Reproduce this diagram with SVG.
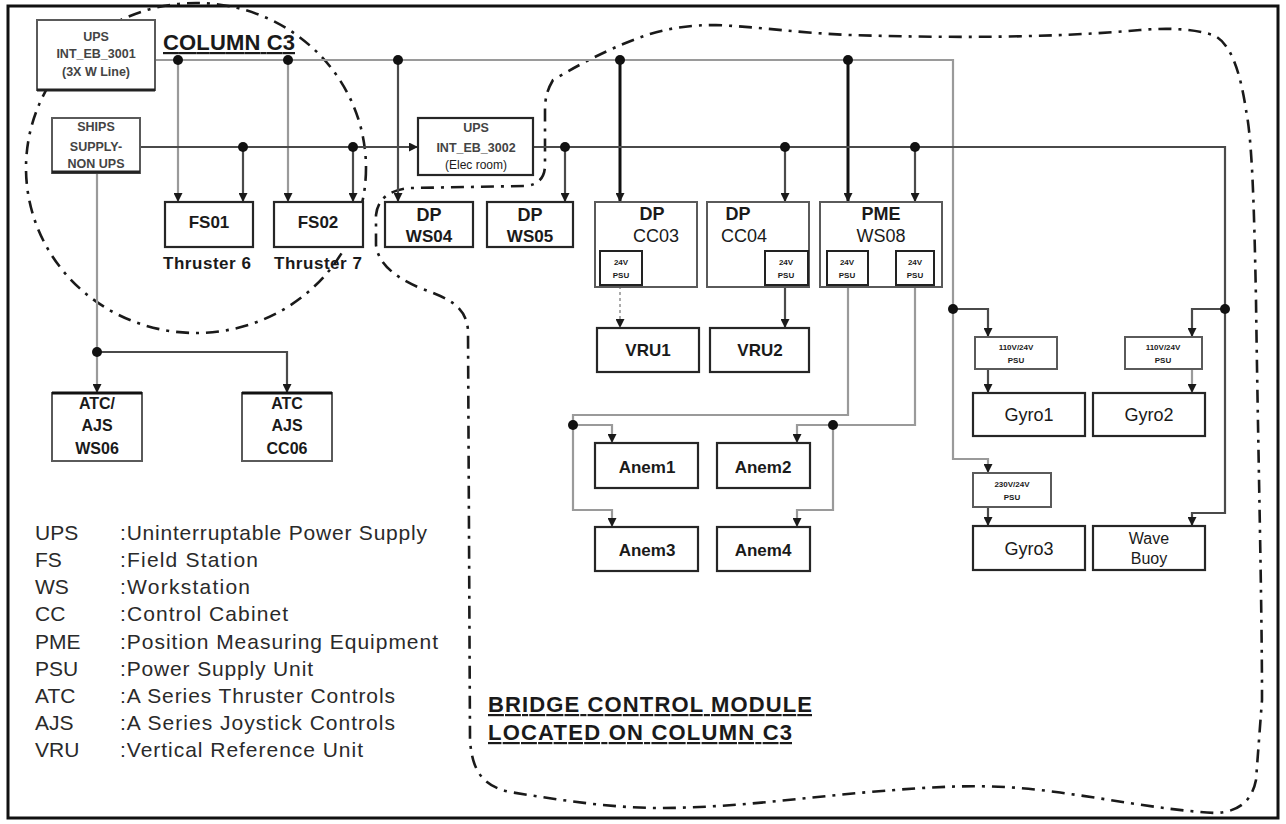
<svg xmlns="http://www.w3.org/2000/svg" width="1286" height="824" viewBox="0 0 1286 824">
<defs>
<marker id="ah" viewBox="0 0 10 10" refX="10" refY="5" markerWidth="10" markerHeight="9" markerUnits="userSpaceOnUse" orient="auto">
<path d="M0,0 L10,5 L0,10 z" fill="#1a1a1a"/>
</marker>
<style>
text{font-family:"Liberation Sans",Arial,sans-serif;fill:#1a1a1a;text-anchor:middle}
.b{font-weight:bold}
.st{text-anchor:start}
.box{fill:#fff;stroke:#262626;stroke-width:2.2}
.boxl{fill:#fff;stroke:#5a5a5a;stroke-width:2}
.sm{fill:#fff;stroke:#222;stroke-width:2}
.dd{fill:none;stroke:#1a1a1a;stroke-width:2.6;stroke-dasharray:13 7 3 7}
.g{fill:none;stroke:#9a9a9a;stroke-width:2.2}
.m{fill:none;stroke:#4a4a4a;stroke-width:2.2}
.k{fill:none;stroke:#111;stroke-width:3}
.dsh{fill:none;stroke:#333;stroke-width:1.6;stroke-dasharray:4 3}
.dot2{fill:none;stroke:#888;stroke-width:1.4;stroke-dasharray:3 3}
.leg{text-anchor:start;font-size:21px;fill:#2a2a2a}
.tiny{font-size:8px;font-weight:bold}
.ut{font-size:12.5px;font-weight:bold;fill:#444}
</style>
</defs>
<rect x="0" y="0" width="1286" height="824" fill="#fff"/>
<rect x="8" y="6" width="1270" height="812" fill="none" stroke="#111" stroke-width="3"/>

<!-- boundaries -->
<g id="boundaries">
<ellipse class="dd" cx="196" cy="168" rx="170" ry="165"/>
<path class="dd" d="M553,80 C546,92 545,100 545,112 L545,165 C545,178 538,185 525,186 L410,188 C390,190 378,198 376,215 L376,245 C378,262 392,276 420,288 C448,298 466,306 468,330 L470,740 C472,770 482,786 510,792 C560,800 610,808 660,808 C730,808 800,798 870,792 C930,787 980,783 1040,790 C1100,797 1160,810 1215,813 C1240,812 1252,800 1256,780 L1262,700 C1262,600 1258,450 1256,300 C1254,200 1252,140 1246,110 C1240,70 1230,42 1213,35 C1190,28 1165,28 1140,30 C1050,38 950,38 850,35 C800,33 760,27 716,25 C690,25 670,28 650,34 C620,44 590,58 553,80 Z"/>
</g>

<!-- connectors -->
<g id="connectors">
<path class="g" d="M155,60 H953 V459 H988 V473" marker-end="url(#ah)"/>
<path class="g" d="M178,60 V202" marker-end="url(#ah)"/>
<path class="g" d="M288,60 V202" marker-end="url(#ah)"/>
<path class="m" d="M398,60 V202" marker-end="url(#ah)"/>
<path class="k" d="M620,60 V202" marker-end="url(#ah)"/>
<path class="k" d="M848,60 V202" marker-end="url(#ah)"/>
<path class="m" d="M140,147 H418" marker-end="url(#ah)"/>
<path class="m" d="M533,147 H1225 V513 H1192 V526" marker-end="url(#ah)"/>
<path class="m" d="M243,147 V202" marker-end="url(#ah)"/>
<path class="m" d="M353,147 V202" marker-end="url(#ah)"/>
<path class="m" d="M565,147 V202" marker-end="url(#ah)"/>
<path class="m" d="M785,147 V202" marker-end="url(#ah)"/>
<path class="m" d="M915,147 V202" marker-end="url(#ah)"/>
<path class="dsh" d="M620,204 V251" marker-end="url(#ah)"/>
<path class="dsh" d="M785,204 V251" marker-end="url(#ah)"/>
<path class="m" d="M848,204 V251" marker-end="url(#ah)"/>
<path class="dsh" d="M915,204 V251" marker-end="url(#ah)"/>
<path class="dot2" d="M620,286 V328" marker-end="url(#ah)"/>
<path class="m" d="M785,286 V328" marker-end="url(#ah)"/>
<path class="g" d="M848,286 V415 H573 V510 H612 V527" marker-end="url(#ah)"/>
<path class="g" d="M573,425 H612 V443" marker-end="url(#ah)"/>
<path class="g" d="M915,286 V425 H797 V443" marker-end="url(#ah)"/>
<path class="g" d="M833,425 V510 H797 V527" marker-end="url(#ah)"/>
<path class="m" d="M953,309 H988 V337" marker-end="url(#ah)"/>
<path class="m" d="M988,369 V393" marker-end="url(#ah)"/>
<path class="m" d="M988,507 V526" marker-end="url(#ah)"/>
<path class="m" d="M1225,309 H1192 V337" marker-end="url(#ah)"/>
<path class="g" d="M1192,369 V393" marker-end="url(#ah)"/>
<path class="g" d="M97,173 V393" marker-end="url(#ah)"/>
<path class="m" d="M97,352 H287 V393" marker-end="url(#ah)"/>
<g fill="#111">
<circle cx="178" cy="60" r="5"/><circle cx="288" cy="60" r="5"/><circle cx="398" cy="60" r="5"/><circle cx="620" cy="60" r="5"/><circle cx="848" cy="60" r="5"/>
<circle cx="243" cy="147" r="5"/><circle cx="353" cy="147" r="5"/><circle cx="565" cy="147" r="5"/><circle cx="785" cy="147" r="5"/><circle cx="915" cy="147" r="5"/>
<circle cx="97" cy="352" r="5"/><circle cx="953" cy="309" r="5"/><circle cx="1225" cy="309" r="5"/><circle cx="573" cy="425" r="5"/><circle cx="833" cy="425" r="5"/>
</g>
</g>

<!-- nodes -->
<g id="ups1"><rect class="boxl" x="37" y="20" width="118" height="70"/><line x1="37" y1="90" x2="155" y2="90" stroke="#222" stroke-width="3"/>
<text class="ut" x="96" y="41">UPS</text><text class="ut" x="96" y="58">INT_EB_3001</text><text class="ut" x="96" y="76">(3X W Line)</text></g>
<g id="col-label"><text class="b st" x="163" y="50" font-size="22" text-decoration="underline" textLength="132">COLUMN C3</text></g>
<g id="ships"><rect class="boxl" x="52" y="118" width="88" height="55"/><line x1="52" y1="172" x2="140" y2="172" stroke="#222" stroke-width="3"/>
<text class="ut" x="96" y="131">SHIPS</text><text class="ut" x="96" y="151">SUPPLY-</text><text class="ut" x="96" y="168">NON UPS</text></g>
<g id="ups2"><rect class="box" x="418" y="118" width="115" height="57"/>
<text class="ut" x="476" y="132">UPS</text><text class="ut" x="476" y="152">INT_EB_3002</text><text x="476" y="169" font-size="12" fill="#444">(Elec room)</text></g>
<g id="fs01"><rect class="box" x="165" y="202" width="88" height="45" stroke-width="3"/><text class="b" x="209" y="228" font-size="17">FS01</text><text class="b" x="207" y="269" font-size="17" fill="#333" textLength="88">Thruster 6</text></g>
<g id="fs02"><rect class="box" x="274" y="202" width="89" height="45" stroke-width="3"/><text class="b" x="318" y="228" font-size="17">FS02</text><text class="b" x="318" y="269" font-size="17" fill="#333" textLength="88">Thruster 7</text></g>
<g id="dp-ws04"><rect class="box" x="385" y="202" width="88" height="45"/><text class="b" x="429" y="221" font-size="18">DP</text><text class="b" x="429" y="242" font-size="17">WS04</text></g>
<g id="dp-ws05"><rect class="box" x="487" y="202" width="86" height="45"/><text class="b" x="530" y="221" font-size="18">DP</text><text class="b" x="530" y="242" font-size="17">WS05</text></g>
<g id="dp-cc03"><rect class="boxl" x="595" y="202" width="102" height="85"/><text class="b" x="652" y="220" font-size="18">DP</text><text x="656" y="242" font-size="18">CC03</text>
<rect class="sm" x="600" y="251" width="42" height="34"/><text class="tiny" x="621" y="265">24V</text><text class="tiny" x="621" y="278">PSU</text></g>
<g id="dp-cc04"><rect class="boxl" x="707" y="202" width="102" height="85"/><text class="b" x="738" y="220" font-size="18">DP</text><text x="744" y="242" font-size="18">CC04</text>
<rect class="sm" x="765" y="251" width="43" height="34"/><text class="tiny" x="786" y="265">24V</text><text class="tiny" x="786" y="278">PSU</text></g>
<g id="pme-ws08"><rect class="boxl" x="820" y="202" width="122" height="85"/><text class="b" x="881" y="220" font-size="18">PME</text><text x="881" y="242" font-size="18">WS08</text>
<rect class="sm" x="827" y="251" width="41" height="34"/><text class="tiny" x="847" y="265">24V</text><text class="tiny" x="847" y="278">PSU</text>
<rect class="sm" x="896" y="251" width="38" height="34"/><text class="tiny" x="915" y="265">24V</text><text class="tiny" x="915" y="278">PSU</text></g>
<g id="vru1"><rect class="box" x="597" y="328" width="102" height="44"/><text class="b" x="648" y="356" font-size="17">VRU1</text></g>
<g id="vru2"><rect class="box" x="710" y="328" width="99" height="44"/><text class="b" x="760" y="356" font-size="17">VRU2</text></g>
<g id="atc1"><rect class="boxl" x="52" y="393" width="90" height="68"/><line x1="52" y1="393" x2="142" y2="393" stroke="#111" stroke-width="3"/>
<text class="b" x="97" y="409" font-size="16">ATC/</text><text class="b" x="97" y="431" font-size="16">AJS</text><text class="b" x="97" y="454" font-size="16">WS06</text></g>
<g id="atc2"><rect class="boxl" x="242" y="393" width="90" height="68"/><line x1="242" y1="393" x2="332" y2="393" stroke="#111" stroke-width="3"/>
<text class="b" x="287" y="409" font-size="16">ATC</text><text class="b" x="287" y="431" font-size="16">AJS</text><text class="b" x="287" y="454" font-size="16">CC06</text></g>
<g id="anem1"><rect class="box" x="595" y="443" width="103" height="45"/><text class="b" x="647" y="473" font-size="17">Anem1</text></g>
<g id="anem2"><rect class="box" x="717" y="443" width="93" height="45"/><text class="b" x="763" y="473" font-size="17">Anem2</text></g>
<g id="anem3"><rect class="box" x="595" y="527" width="103" height="44"/><text class="b" x="647" y="556" font-size="17">Anem3</text></g>
<g id="anem4"><rect class="box" x="717" y="527" width="93" height="44"/><text class="b" x="763" y="556" font-size="17">Anem4</text></g>
<g id="psu-gyro1"><rect class="boxl" x="975" y="337" width="82" height="32"/><text class="tiny" x="1016" y="350">110V/24V</text><text class="tiny" x="1016" y="363">PSU</text></g>
<g id="psu-gyro2"><rect class="boxl" x="1125" y="337" width="77" height="32"/><text class="tiny" x="1163" y="350">110V/24V</text><text class="tiny" x="1163" y="363">PSU</text></g>
<g id="psu-gyro3"><rect class="boxl" x="973" y="473" width="78" height="34"/><text class="tiny" x="1012" y="487">230V/24V</text><text class="tiny" x="1012" y="500">PSU</text></g>
<g id="gyro1"><rect class="box" x="973" y="393" width="112" height="43"/><text x="1029" y="421" font-size="18">Gyro1</text></g>
<g id="gyro2"><rect class="box" x="1093" y="393" width="112" height="43"/><text x="1149" y="421" font-size="18">Gyro2</text></g>
<g id="gyro3"><rect class="box" x="973" y="526" width="112" height="44"/><text x="1029" y="555" font-size="18">Gyro3</text></g>
<g id="wave-buoy"><rect class="box" x="1093" y="526" width="112" height="44"/><text x="1149" y="544" font-size="16">Wave</text><text x="1149" y="564" font-size="16">Buoy</text></g>

<g id="bridge-label">
<text class="b st" x="488" y="712" font-size="22" text-decoration="underline" textLength="324">BRIDGE CONTROL MODULE</text>
<text class="b st" x="488" y="740" font-size="22" text-decoration="underline" textLength="304">LOCATED ON COLUMN C3</text>
</g>

<g id="legend">
<text class="leg" x="35" y="540">UPS</text><text class="leg" x="120" y="540" textLength="307">:Uninterruptable Power Supply</text>
<text class="leg" x="35" y="567">FS</text><text class="leg" x="120" y="567" textLength="138">:Field Station</text>
<text class="leg" x="35" y="594">WS</text><text class="leg" x="120" y="594" textLength="130">:Workstation</text>
<text class="leg" x="35" y="621">CC</text><text class="leg" x="120" y="621" textLength="168">:Control Cabinet</text>
<text class="leg" x="35" y="649">PME</text><text class="leg" x="120" y="649" textLength="318">:Position Measuring Equipment</text>
<text class="leg" x="35" y="676">PSU</text><text class="leg" x="120" y="676" textLength="193">:Power Supply Unit</text>
<text class="leg" x="35" y="703">ATC</text><text class="leg" x="120" y="703" textLength="275">:A Series Thruster Controls</text>
<text class="leg" x="35" y="730">AJS</text><text class="leg" x="120" y="730" textLength="275">:A Series Joystick Controls</text>
<text class="leg" x="35" y="757">VRU</text><text class="leg" x="120" y="757" textLength="243">:Vertical Reference Unit</text>
</g>
</svg>
